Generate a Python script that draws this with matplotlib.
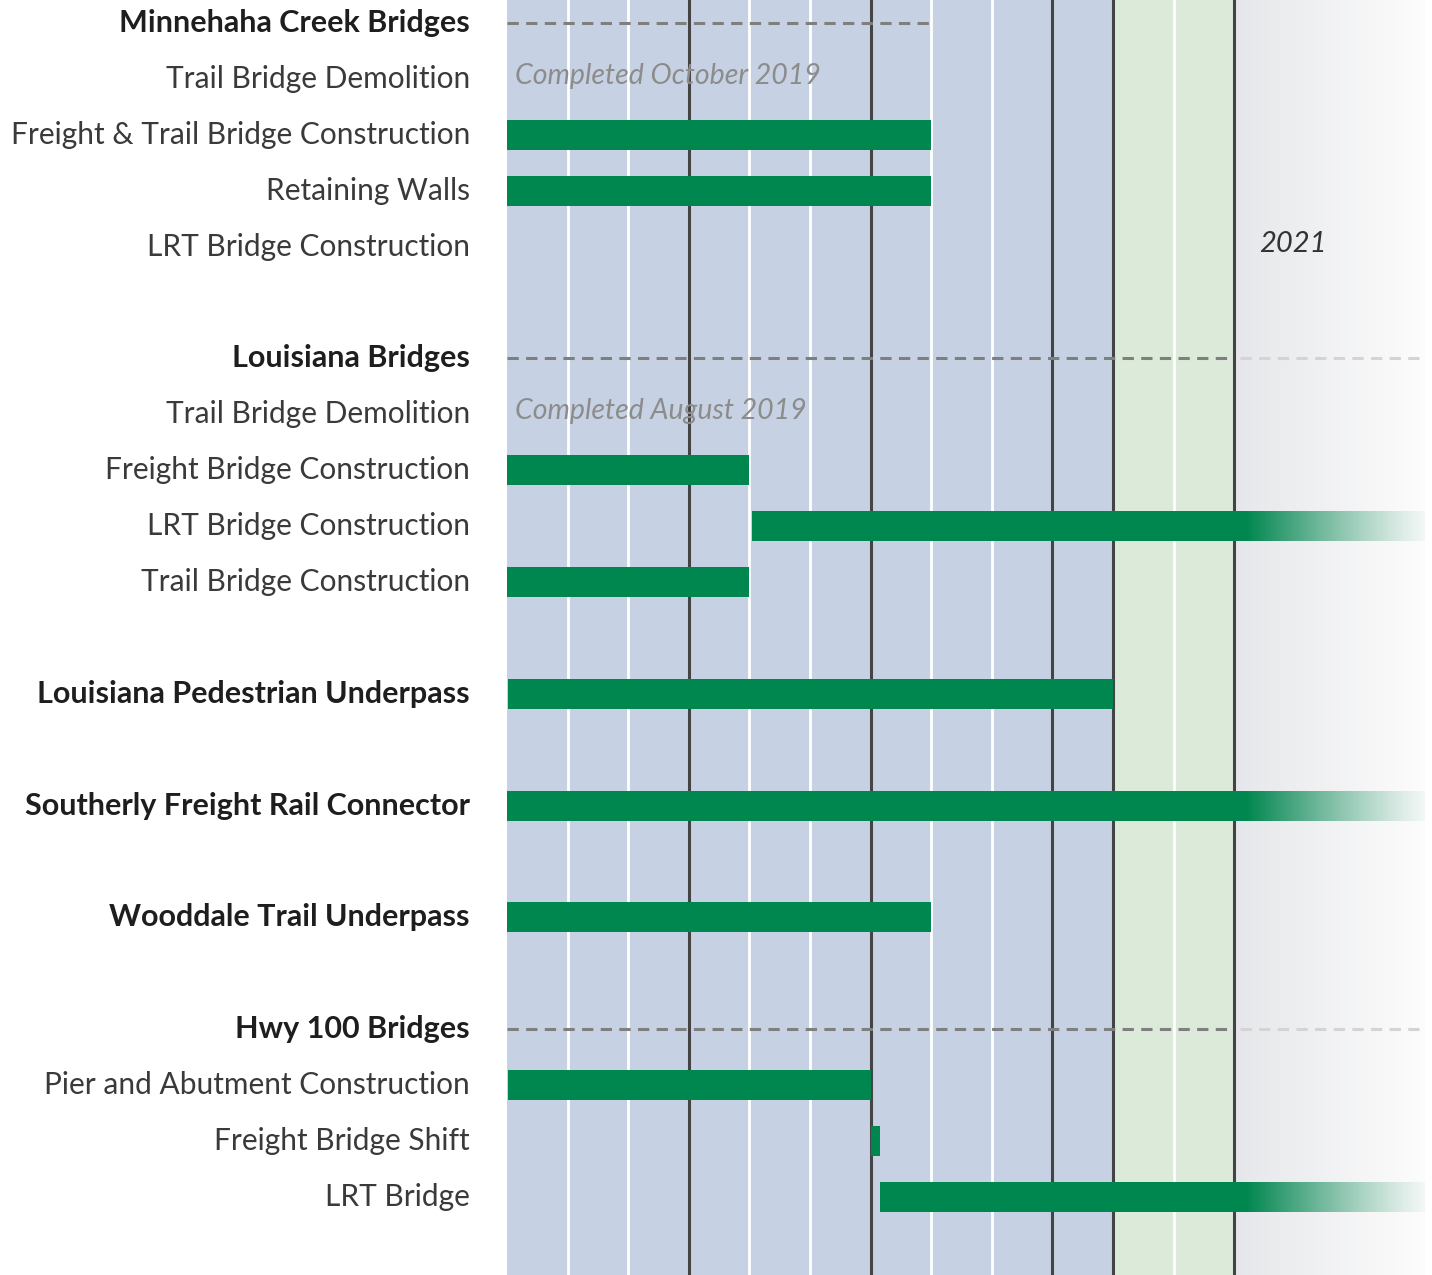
import numpy as np
import matplotlib
matplotlib.use("Agg")
import matplotlib.pyplot as plt

# ---- data ----
tasks = ["Minnehaha Creek Bridges", "Trail Bridge Demolition",
         "Freight & Trail Bridge Construction", "Retaining Walls",
         "LRT Bridge Construction",
         "Louisiana Bridges", "Trail Bridge Demolition",
         "Freight Bridge Construction", "LRT Bridge Construction",
         "Trail Bridge Construction",
         "Louisiana Pedestrian Underpass",
         "Southerly Freight Rail Connector",
         "Wooddale Trail Underpass",
         "Hwy 100 Bridges", "Pier and Abutment Construction",
         "Freight Bridge Shift", "LRT Bridge"]
kind = ["group", "sub", "sub", "sub", "sub",
        "group", "sub", "sub", "sub", "sub",
        "main", "main", "main",
        "group", "sub", "sub", "sub"]
row = [0, 1, 2, 3, 4, 6, 7, 8, 9, 10, 12, 14, 16, 18, 19, 20, 21]
# start / end in months from left edge; None = no bar; 99 = ongoing (fades out)
start = [None, None, 0, 0, None, None, None, 0, 4.05, 0, 0.02, 0, 0, None, 0.02, 6.0, 6.15]
end = [None, None, 7, 7, None, None, None, 4, 99, 4, 10, 99, 7, None, 6, 6.15, 99]
notes = {1: "Completed October 2019", 7: "Completed August 2019"}
group_line_end = {0: 7, 6: 12, 18: 12}

NMONTH = 15.15
FADE_AT = 12.18
GREEN = "#00864f"

fig = plt.figure(figsize=(14.32, 12.75), dpi=100)
ax = fig.add_axes([507 / 1432, 0, (1425 - 507) / 1432, 1])
unit = 55.9
ytop = -23 / unit
ybot = (1275 - 23) / unit
ax.set_xlim(0, NMONTH)
ax.set_ylim(ybot, ytop)
ax.axis("off")

# background bands
ax.axvspan(0, 10, color="#c6d2e3", lw=0, zorder=0)
ax.axvspan(10, 12, color="#dcebd9", lw=0, zorder=0)
g = np.linspace(0, 1, 200)
c0 = np.array([0.902, 0.906, 0.918])
c1 = np.array([0.99, 0.99, 0.99])
grad = (c0[None, :] * (1 - g[:, None]) + c1[None, :] * g[:, None])[None, :, :]
ax.imshow(grad, extent=[12, NMONTH, ybot, ytop], aspect="auto", zorder=0)

# month lines
for m in range(1, 13):
    if m in (3, 6, 9, 10, 12):
        ax.axvline(m, color="#444444", lw=2.2, zorder=1)
    else:
        ax.axvline(m, color="white", lw=2.0, zorder=1)

# group dashed lines
for r, xe in group_line_end.items():
    ax.plot([0, xe], [r, r], color="#7f7f7f", lw=2.2, dashes=(3.7, 2.4), zorder=2)
    if xe >= 12:
        ax.plot([xe + 0.1, NMONTH], [r, r], color="#d4d4d4", lw=2.2, dashes=(3.7, 2.4), zorder=2)

# bars
bh = 30 / unit
nseg = 90
for i in range(len(tasks)):
    if start[i] is None:
        continue
    s, e = start[i], end[i]
    y = row[i]
    if e > NMONTH:
        ax.barh(y, FADE_AT - s, left=s, height=bh, color=GREEN, lw=0, zorder=3)
        edges = np.linspace(FADE_AT, NMONTH, nseg + 1)
        alphas = np.linspace(1, 0.08, nseg) ** 1.3
        ax.barh([y] * nseg, np.diff(edges) * 1.02, left=edges[:-1], height=bh,
                color=[(0, 0x86 / 255, 0x4f / 255, a) for a in alphas], lw=0, zorder=3)
    else:
        ax.barh(y, e - s, left=s, height=bh, color=GREEN, lw=0, zorder=3)

for r, txt in notes.items():
    k = row.index(r)
    ax.text(0.13, row[k] - 0.06, txt, fontsize=20.5, style="italic", color="#8c8c8c",
            family="Lato", va="center", ha="left", zorder=4)
ax.text(12.42, 3.95, "2021", fontsize=21, style="italic", color="#333333",
        family="Lato", va="center", ha="left", zorder=4)

# labels
for i, t in enumerate(tasks):
    yfig = 1 - (23 + row[i] * unit) / 1275
    if kind[i] == "sub":
        fig.text(470 / 1432, yfig, t, fontsize=21.5, color="#3a3a3a", family="Lato",
                 ha="right", va="center")
    else:
        fig.text(470 / 1432, yfig, t, fontsize=22, color="#1e1e1e", family="Lato",
                 weight="bold", ha="right", va="center")

fig.savefig("out.png", dpi=100, facecolor="white")
